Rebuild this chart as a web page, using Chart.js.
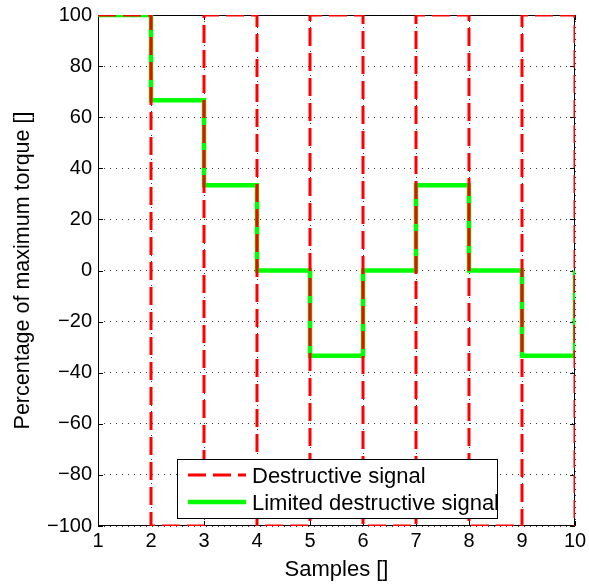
<!DOCTYPE html>
<html>
<head>
<meta charset="utf-8">
<script src="https://cdn.jsdelivr.net/npm/chart.js@4.4.1/dist/chart.umd.min.js"></script>
<style>
  html, body { margin: 0; padding: 0; background: #ffffff; }
  #wrap { width: 589px; height: 585px; }
</style>
</head>
<body>
<div id="wrap"><canvas id="c" width="589" height="585"></canvas></div>
<script>
// ---- data ----
const samples = [1, 2, 3, 4, 5, 6, 7, 8, 9, 10];
const destructiveSignal = [100, -100, 100, -100, 100, -100, 100, -100, 100, -100];
const limitedSignal = [100, 66.67, 33.33, 0, -33.33, 0, 33.33, 0, -33.33, 0];
const seriesLabels = ['Destructive signal', 'Limited destructive signal'];
const xTickValues = [1, 2, 3, 4, 5, 6, 7, 8, 9, 10];
const yTickValues = [-100, -80, -60, -40, -20, 0, 20, 40, 60, 80, 100];
const xTitle = 'Samples []';
const yTitle = 'Percentage of maximum torque []';

const FONT = '"Liberation Sans", Arial, Helvetica, sans-serif';
const TICK_FS = 20;
const TEXT_FS = 22;
const RED_DASH = [18, 7];

const toPts = (xs, ys) => xs.map((x, i) => ({ x: x, y: ys[i] }));
const fmt = v => String(v).replace('-', '\u2212');
const noPad = s => { s.paddingLeft = 0; s.paddingRight = 0; s.paddingTop = 0; s.paddingBottom = 0; };

const framePlugin = {
  id: 'frame',
  beforeDatasetsDraw(chart) {
    const ctx = chart.ctx, a = chart.chartArea;
    const xs = chart.scales.x, ys = chart.scales.y;
    ctx.save();
    ctx.strokeStyle = '#000';
    ctx.lineWidth = 1;
    ctx.setLineDash([]);
    ctx.strokeRect(Math.round(a.left) + 0.5, Math.round(a.top) + 0.5,
                   Math.round(a.right - a.left) - 1, Math.round(a.bottom - a.top) - 1);
    ctx.beginPath();
    const L = 5;
    xTickValues.forEach(v => {
      const px = Math.round(xs.getPixelForValue(v)) + 0.5;
      ctx.moveTo(px, a.bottom); ctx.lineTo(px, a.bottom - L);
      ctx.moveTo(px, a.top); ctx.lineTo(px, a.top + L);
    });
    yTickValues.forEach(v => {
      const py = Math.round(ys.getPixelForValue(v)) + 0.5;
      ctx.moveTo(a.left, py); ctx.lineTo(a.left + L, py);
      ctx.moveTo(a.right, py); ctx.lineTo(a.right - L, py);
    });
    ctx.stroke();
    ctx.restore();
  },
  afterDraw(chart) {
    const ctx = chart.ctx;
    // legend box
    const bx = 177, by = 459, bw = 320, bh = 59;
    ctx.save();
    ctx.fillStyle = '#fff';
    ctx.fillRect(bx, by, bw, bh);
    ctx.strokeStyle = '#000';
    ctx.lineWidth = 1;
    ctx.setLineDash([]);
    ctx.strokeRect(bx + 0.5, by + 0.5, bw, bh);
    const ds = chart.data.datasets;
    const rows = [475, 502];
    ds.forEach((d, i) => {
      const y = rows[i];
      ctx.beginPath();
      ctx.strokeStyle = d.borderColor;
      ctx.lineWidth = d.borderWidth;
      ctx.setLineDash(d.borderDash || []);
      ctx.moveTo(188, y);
      ctx.lineTo(246, y);
      ctx.stroke();
      ctx.setLineDash([]);
      ctx.fillStyle = '#000';
      ctx.font = TEXT_FS + 'px ' + FONT;
      ctx.textAlign = 'left';
      ctx.textBaseline = 'middle';
      ctx.fillText(d.label, 252, y + 2);
    });
    ctx.restore();
  }
};

new Chart(document.getElementById('c'), {
  type: 'line',
  data: {
    datasets: [
      {
        label: seriesLabels[0],
        data: toPts(samples, destructiveSignal),
        borderColor: '#ff0000',
        borderWidth: 3,
        borderDash: RED_DASH,
        stepped: true,
        pointRadius: 0,
        fill: false
      },
      {
        label: seriesLabels[1],
        data: toPts(samples, limitedSignal),
        borderColor: '#00ff00',
        borderWidth: 4.5,
        stepped: true,
        pointRadius: 0,
        fill: false
      }
    ]
  },
  options: {
    responsive: false,
    animation: false,
    layout: { padding: { left: 10, right: 14, top: 15, bottom: 2 } },
    plugins: { legend: { display: false }, tooltip: { enabled: false } },
    scales: {
      x: {
        type: 'linear',
        min: 1, max: 10,
        afterFit(s) { s.height = 57; noPad(s); },
        afterBuildTicks(s) { s.ticks = xTickValues.map(v => ({ value: v })); },
        ticks: {
          color: '#000', padding: 3, maxRotation: 0,
          font: { family: FONT, size: TICK_FS },
          callback: v => fmt(v)
        },
        grid: { color: '#333', lineWidth: 1, drawTicks: false },
        border: { display: false, dash: [1, 5] },
        title: {
          display: true, text: xTitle, color: '#000',
          font: { family: FONT, size: TEXT_FS }, padding: { top: 0, bottom: 0 }
        }
      },
      y: {
        type: 'linear',
        min: -100, max: 100,
        afterFit(s) { s.width = 88; noPad(s); },
        afterBuildTicks(s) { s.ticks = yTickValues.map(v => ({ value: v })); },
        ticks: {
          color: '#000', padding: 6,
          font: { family: FONT, size: TICK_FS },
          callback: v => fmt(v)
        },
        grid: { color: '#333', lineWidth: 1, drawTicks: false },
        border: { display: false, dash: [1, 5] },
        title: {
          display: true, text: yTitle, color: '#000',
          font: { family: FONT, size: 21.5 }, padding: { top: 0, bottom: 0 }
        }
      }
    }
  },
  plugins: [framePlugin]
});
</script>
</body>
</html>
